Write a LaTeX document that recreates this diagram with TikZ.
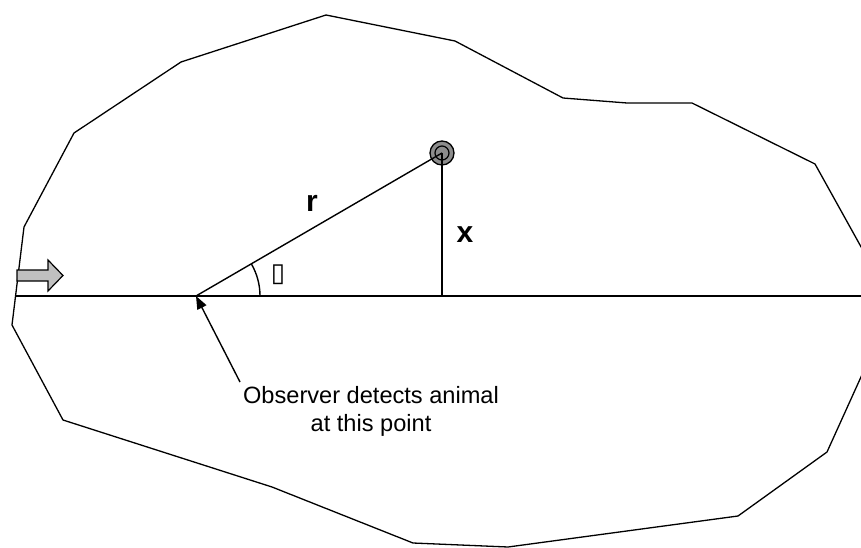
\documentclass[tikz,border=0pt]{standalone}
\usepackage{fontspec}
\setmainfont{Liberation Sans}
\newfontfamily\symfont{DejaVu Sans}
\usetikzlibrary{arrows.meta}
\definecolor{animalgray}{HTML}{8C8C8C}
\definecolor{arrowgray}{HTML}{C0C0C0}
\tikzset{
  boundary/.style={draw=black, line width=1.3pt, line join=miter},
  transect/.style={draw=black, line width=1.8pt},
  geom/.style={draw=black, line width=1.4pt},
  animal/.style={circle, draw=black, line width=1.3pt, fill=animalgray, minimum size=24pt, inner sep=0pt},
  biglabel/.style={font=\fontsize{30}{36}\selectfont\bfseries, inner sep=0pt},
  note/.style={font=\fontsize{23.6}{28}\selectfont, align=center, inner sep=0pt},
  pointer/.style={draw=black, line width=1.4pt, -{Triangle[length=13pt,width=10pt]}},
  blockarrow/.style={draw=black, line width=1.2pt, fill=arrowgray, line join=miter}
}
\begin{document}
\begin{tikzpicture}[x=1pt,y=-1pt]
\useasboundingbox (0,0) rectangle (861,548);
\clip (0,0) rectangle (861,548);
% survey region boundary
\draw[boundary] (326,15) -- (455,41) -- (563,98) -- (627,103) -- (692,103)
  -- (815,164) -- (875,272) -- (875,346) -- (827,452) -- (738,516)
  -- (508,547) -- (413,543) -- (272,487) -- (63,420) -- (12,325)
  -- (24,227) -- (74,133) -- (181,62) -- cycle;
% transect line
\coordinate (lstart) at (16,296);
\coordinate (lend) at (861,296);
\draw[transect] (lstart) -- (lend);
% direction of travel
\draw[blockarrow] (17,270) -- (48,270) -- (48,260) -- (63,275.5) -- (48,291) -- (48,281) -- (17,281) -- cycle;
% observer and animal
\coordinate (obs) at (196,296);
\coordinate (foot) at (442,296);
\node[animal] (an) at (442,153) {};
\draw[black, line width=1.2pt, fill=animalgray] (an.center) circle[radius=7];
\draw[geom] (obs) -- (an.center);
\draw[geom] (an.center) -- (foot);
% angle
\draw[geom] (obs) ++(64,0) arc[start angle=0, end angle=-30.2, radius=64];
\node[font=\symfont\fontsize{26}{30}\selectfont, inner sep=0pt] (theta) at (278,275) {▯};
% labels
\node[biglabel] (rlab) at (312,203) {r};
\node[biglabel] (xlab) at (465,235) {x};
\node[note, anchor=north] (txt) at (371,386.5) {Observer detects animal\\at this point};
\coordinate (tail) at (240,382);
\draw[pointer] (tail) -- (obs);
\end{tikzpicture}
\end{document}
